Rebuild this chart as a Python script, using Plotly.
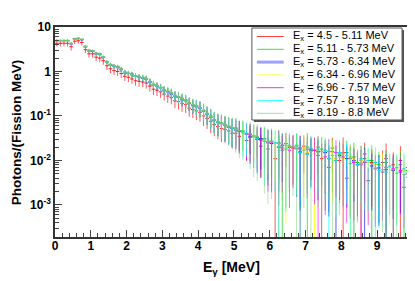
import plotly.graph_objects as go

# bin centres (MeV), bin width 0.1
bin_lo = [round(0.1 * i, 2) for i in range(99)]
bin_centers = [b + 0.05 for b in bin_lo]

labels = ["4.5 - 5.11", "5.11 - 5.73", "5.73 - 6.34", "6.34 - 6.96",
          "6.96 - 7.57", "7.57 - 8.19", "8.19 - 8.8"]

N = None  # bin not drawn (empty / non-positive on the log axis)

s1 = [4.3,4.3,4.3,4.3,3.6,4.8,4.9,4.5,3.1,2.5,
      2.5,2.1,2.0,1.75,1.35,1.15,1.05,1.0,0.9,0.78,
      0.74,0.68,0.62,0.60,0.58,0.55,0.47,0.40,0.38,0.35,
      0.31,0.28,0.26,0.22,0.21,0.19,0.18,0.15,0.14,0.13,
      0.12,0.10,0.088,0.076,0.064,0.058,0.052,0.05,0.046,0.041,
      0.041,0.035,N,0.028,0.033,N,0.03,0.021,N,0.018,
      N,0.011,0.02,N,0.024,N,0.019,N,0.016,0.021,
      N,0.018,N,0.02,0.011,N,0.007,0.019,N,0.01,
      0.015,N,0.011,N,N,0.01,0.014,N,0.009,N,
      N,0.009,0.011,N,0.008,N,0.01,N,0.007]
s2 = [5.0,5.0,5.0,5.0,4.3,5.5,5.6,5.3,3.7,3.0,
      2.9,2.6,2.5,2.1,1.65,1.45,1.35,1.3,1.15,0.97,
      0.92,0.88,0.8,0.76,0.74,0.7,0.6,0.52,0.48,0.44,
      0.39,0.36,0.33,0.29,0.27,0.25,0.23,0.2,0.18,0.17,
      0.155,0.135,0.115,0.1,0.083,0.075,0.07,0.064,0.059,0.055,
      0.054,0.045,0.046,N,0.04,0.034,N,0.029,0.031,N,
      0.027,N,0.025,0.017,N,0.02,N,0.022,0.018,N,
      0.02,N,0.017,N,0.018,0.015,N,0.016,N,0.014,
      N,0.015,N,0.012,0.009,N,0.011,N,0.01,N,
      0.008,N,0.009,N,0.006,N,0.008,N,0.006]
s3 = [4.95,4.95,4.95,4.95,4.2,5.4,5.5,5.2,3.6,2.9,
      2.85,2.5,2.4,2.05,1.6,1.4,1.3,1.22,1.1,0.93,
      0.9,0.84,0.78,0.73,0.71,0.67,0.57,0.5,0.46,0.43,
      0.37,0.35,0.31,0.28,0.26,0.23,0.22,0.19,0.17,0.16,
      0.15,0.128,0.11,0.094,0.079,0.071,0.067,0.061,0.056,0.052,
      0.048,0.047,N,0.04,0.035,N,0.03,0.031,N,0.026,
      0.024,N,0.02,0.022,N,0.02,N,0.019,0.015,N,
      0.014,0.017,N,0.016,N,0.015,0.011,N,0.01,0.013,
      N,0.011,N,0.01,0.008,N,0.009,N,0.0075,N,
      0.0068,N,0.0062,N,0.006,N,0.0055,N,0.005]
s4 = [4.9,4.9,4.9,4.9,4.25,5.45,5.5,5.25,3.65,2.95,
      2.9,2.55,2.4,2.1,1.62,1.42,1.32,1.27,1.12,0.96,
      0.91,0.86,0.79,0.75,0.73,0.69,0.59,0.51,0.47,0.44,
      0.38,0.36,0.32,0.29,0.26,0.245,0.225,0.195,0.18,0.165,
      0.152,0.13,0.112,0.096,0.081,0.073,0.069,0.063,0.058,0.054,
      0.05,N,0.043,0.041,N,0.036,0.032,N,0.028,0.027,
      N,0.024,0.021,N,0.019,0.021,N,0.02,N,0.019,
      0.015,N,0.014,0.017,N,0.016,N,0.015,0.011,N,
      0.011,N,0.0095,0.011,N,0.01,N,0.009,N,0.0082,
      N,0.0075,N,0.007,N,0.0065,N,0.006,N]
s5 = [4.95,4.95,4.95,4.95,4.2,5.5,5.5,5.2,3.6,2.9,
      2.9,2.5,2.45,2.1,1.6,1.42,1.3,1.26,1.1,0.95,
      0.9,0.86,0.78,0.75,0.72,0.68,0.58,0.5,0.47,0.43,
      0.38,0.35,0.32,0.28,0.26,0.24,0.22,0.19,0.175,0.165,
      0.15,0.13,0.11,0.095,0.08,0.072,0.068,0.062,0.057,0.053,
      0.051,0.045,N,0.039,0.038,N,0.033,0.029,N,0.025,
      0.026,N,0.024,0.019,N,0.017,0.02,N,0.019,N,
      0.018,N,0.017,0.013,N,0.012,0.016,N,0.015,N,
      0.012,0.004,N,0.009,N,0.008,0.009,0.0035,N,0.0065,
      N,0.0055,0.007,N,0.0065,N,0.006,0.0025,N]
s6 = [4.9,4.9,4.9,4.9,4.2,5.4,5.45,5.2,3.6,2.9,
      2.9,2.5,2.4,2.1,1.6,1.4,1.3,1.25,1.1,0.95,
      0.9,0.85,0.77,0.74,0.72,0.67,0.58,0.5,0.47,0.43,
      0.38,0.35,0.32,0.28,0.26,0.24,0.22,0.19,0.175,0.165,
      0.15,0.13,0.11,0.095,0.08,0.072,0.068,0.062,0.057,0.053,
      0.049,N,0.042,0.041,N,0.036,0.031,N,0.027,0.027,
      N,0.025,0.02,N,0.018,0.022,N,0.021,0.015,N,
      0.014,0.019,N,0.018,N,0.017,0.011,N,0.01,0.015,
      N,0.013,0.0085,N,0.008,0.011,N,0.01,N,0.009,
      0.006,N,0.0055,0.0075,N,0.007,N,0.0065,0.0042]
s7 = [4.95,4.95,4.95,4.95,4.25,5.45,5.5,5.25,3.65,2.95,
      2.9,2.55,2.45,2.1,1.62,1.42,1.32,1.26,1.12,0.96,
      0.91,0.86,0.79,0.75,0.73,0.69,0.59,0.51,0.48,0.44,
      0.39,0.36,0.33,0.29,0.27,0.245,0.225,0.195,0.18,0.17,
      0.155,0.133,0.113,0.097,0.082,0.074,0.07,0.064,0.059,0.055,
      0.053,0.047,0.046,N,0.04,0.035,0.035,N,0.03,0.026,
      0.027,N,0.024,0.021,0.022,N,0.02,0.018,N,0.017,
      0.018,0.016,N,0.015,0.016,N,0.016,0.013,N,0.012,
      0.014,N,0.012,0.0095,N,0.0085,0.0095,N,0.0085,0.0068,
      N,0.0062,0.0068,N,0.0062,0.0052,N,0.0048,0.0052]

# relative errors in percent (0 where the bin is not drawn)
e1 = [15,15,15,15,18,14,14,15,16,17,
      18,18,19,19,20,20,20,21,21,22,
      22,22,23,24,24,25,25,26,26,27,
      28,30,30,32,33,34,35,36,36,38,
      38,40,42,45,45,48,50,50,52,55,
      45,55,0,65,55,0,60,80,0,85,
      0,130,80,0,70,0,85,0,120,75,
      0,80,0,75,115,0,90,70,0,85,
      120,0,95,0,0,115,80,0,90,0,
      0,85,120,0,90,0,110,0,85]
e2 = [4,4,4,4,5,4,4,4,5,6,
      6,7,7,8,9,9,10,10,11,12,
      12,13,14,14,15,16,17,18,19,20,
      21,22,24,25,27,28,30,32,34,36,
      38,40,42,45,48,50,53,56,60,62,
      60,68,64,0,66,80,0,86,76,0,
      84,0,88,110,0,90,0,85,95,0,
      105,0,90,0,85,95,0,88,0,92,
      0,85,0,110,95,0,90,0,120,0,
      95,0,88,0,115,0,92,0,105]
e3 = [4,4,4,4,5,4,4,4,5,6,
      6,6,7,8,8,9,10,10,11,11,
      12,13,13,14,15,16,17,18,18,20,
      21,22,23,25,26,28,30,31,33,35,
      37,40,42,44,47,50,52,55,58,61,
      62,64,0,70,76,0,82,80,0,86,
      92,0,90,85,0,88,0,92,95,0,
      90,85,0,92,0,88,95,0,110,90,
      0,92,0,88,93,0,110,0,90,0,
      95,0,120,0,92,0,88,0,95]
e4 = [4,4,4,4,5,4,4,4,5,5,
      6,6,7,7,8,9,9,10,10,11,
      11,12,13,13,14,15,16,17,18,19,
      20,21,22,24,25,27,28,30,32,34,
      36,38,40,42,45,48,50,53,56,58,
      58,0,64,66,0,70,76,0,82,82,
      0,86,92,0,98,90,0,88,0,92,
      95,0,110,85,0,88,0,92,95,0,
      90,0,115,85,0,92,0,95,0,88,
      0,90,0,95,0,92,0,110,0]
e5 = [4,4,4,4,5,4,4,4,5,6,
      6,7,7,8,8,9,10,10,11,12,
      12,13,14,14,15,16,17,18,19,20,
      21,22,23,25,26,28,30,32,34,36,
      38,40,42,45,47,50,52,55,58,61,
      64,68,0,74,75,0,80,86,0,92,
      92,0,96,90,0,95,88,0,92,0,
      90,0,94,110,0,95,88,0,90,0,
      92,90,0,95,0,120,88,90,0,95,
      0,92,88,0,110,0,90,88,0]
e6 = [4,4,4,4,5,4,4,4,5,6,
      6,7,7,8,9,9,10,10,11,12,
      12,13,14,15,15,16,17,18,19,20,
      22,23,24,26,27,29,31,33,35,37,
      39,41,44,46,49,52,55,58,61,64,
      66,0,72,70,0,76,84,0,90,88,
      0,92,104,0,96,90,0,92,120,0,
      95,88,0,90,0,92,115,0,95,90,
      0,92,125,0,95,90,0,93,0,120,
      95,0,130,92,0,95,0,125,95]
e7 = [4,4,4,4,5,4,4,4,5,6,
      6,7,7,8,9,9,10,10,11,12,
      13,13,14,15,16,17,18,19,20,21,
      22,24,25,27,28,30,32,34,36,38,
      40,43,45,48,51,54,57,60,63,66,
      72,76,78,0,84,88,90,0,94,96,
      95,0,104,94,96,0,92,110,0,95,
      92,120,0,94,96,0,92,125,0,95,
      94,0,96,130,0,95,92,0,115,94,
      0,96,125,0,95,120,0,96,95]

values = [s1, s2, s3, s4, s5, s6, s7]
errors = [e1, e2, e3, e4, e5, e6, e7]

bar_colors = ["rgba(255,0,0,0.65)", "rgba(0,215,0,0.65)", "rgba(0,0,255,0.65)",
              "rgba(255,255,0,0.75)", "rgba(255,0,255,0.65)", "rgba(0,255,255,0.65)",
              "rgba(120,210,120,0.55)"]
hbar_colors = ["#ff2020", "#00cc00", "#2020ff", "#e8e800", "#ff00ff", "#00e0e0", "#70c870"]
leg_colors = ["#ff4040", "#40e040", "#a0a0ff", "#ffff40", "#e040e0", "#40ffff", "#a0dca0"]
leg_widths = [1, 1, 3, 1, 1, 1, 1]

FONT = "Liberation Sans, Arial, Helvetica, sans-serif"

fig = go.Figure()
for vals, errs, c, hc in zip(values, errors, bar_colors, hbar_colors):
    err_abs = [(v * p / 100.0) if v is not None else 0 for v, p in zip(vals, errs)]
    fig.add_trace(go.Scatter(
        x=bin_centers, y=vals, mode="markers",
        marker=dict(size=1, color=hc),
        error_y=dict(type="data", array=err_abs, visible=True,
                     color=c, thickness=1, width=0),
        error_x=dict(type="constant", value=0.05, visible=True,
                     color=hc, thickness=1, width=0),
        showlegend=False, hoverinfo="skip"))

# page body has an 8px margin: screen = figure + 8
OFF = 8
W, H = 415 - OFF, 281 - OFF
# plot area in screen pixels: x 55..411, y 27..237
L, R, T, B = 55 - OFF, 411 - OFF, 27 - OFF, 237 - OFF
def px(x):
    return (x - OFF - L) / (R - L)
def py(y):
    return (B - (y - OFF)) / (B - T)

shapes = []
annotations = []
# legend box with shadow
shapes.append(dict(type="rect", xref="paper", yref="paper",
                   x0=px(255), x1=px(406), y0=py(122), y1=py(30),
                   line=dict(width=0), fillcolor="#555555"))
shapes.append(dict(type="rect", xref="paper", yref="paper",
                   x0=px(253), x1=px(404), y0=py(120), y1=py(28),
                   line=dict(width=1, color="#555555"), fillcolor="white"))
for i, (lab, lc, lw) in enumerate(zip(labels, leg_colors, leg_widths)):
    yy = 36.5 + 12.8 * i
    shapes.append(dict(type="line", xref="paper", yref="paper",
                       x0=px(258), x1=px(285), y0=py(yy), y1=py(yy),
                       line=dict(color=lc, width=lw)))
    annotations.append(dict(xref="paper", yref="paper", x=px(292), y=py(yy),
                            xanchor="left", yanchor="middle", showarrow=False,
                            text="E<sub>x</sub> = " + lab + " MeV",
                            font=dict(family=FONT, size=11, color="black")))

annotations.append(dict(xref="paper", yref="paper", x=px(16), y=py(132),
                        xanchor="center", yanchor="middle", showarrow=False,
                        textangle=-90, text="<b>Photons/(Fission MeV)</b>",
                        font=dict(family=FONT, size=13.5, color="black")))
annotations.append(dict(xref="paper", yref="paper", x=px(232), y=py(268),
                        xanchor="center", yanchor="middle", showarrow=False,
                        text="<b>E<sub>γ</sub> [MeV]</b>",
                        font=dict(family=FONT, size=14, color="black")))

x_ticks = [0, 1, 2, 3, 4, 5, 6, 7, 8, 9]
y_ticks = [10, 1, 0.1, 0.01, 0.001]
y_ticktext = ["<b>10</b>", "<b>1</b>", "<b>10<sup>-1</sup></b>",
              "<b>10<sup>-2</sup></b>", "<b>10<sup>-3</sup></b>"]

fig.update_layout(
    width=W, height=H, autosize=False,
    margin=dict(l=L, r=W - R, t=T, b=H - B, pad=0),
    paper_bgcolor="white", plot_bgcolor="white",
    showlegend=False, shapes=shapes, annotations=annotations,
    font=dict(family=FONT, color="black"),
    xaxis=dict(range=[0, 9.89], showgrid=False, zeroline=False,
               tickvals=x_ticks, ticktext=["<b>%d</b>" % t for t in x_ticks],
               ticks="inside", ticklen=7, tickcolor="#444", tickwidth=1,
               minor=dict(ticks="inside", ticklen=4, dtick=0.2, tickcolor="#444", showgrid=False),
               showline=True, mirror=True, linecolor="#333", linewidth=1.5,
               ticklabelstandoff=-3,
               tickfont=dict(family=FONT, size=12, color="black")),
    yaxis=dict(type="log", range=[-3.72, 1.0], showgrid=False, zeroline=False,
               tickvals=y_ticks, ticktext=y_ticktext,
               ticks="inside", ticklen=7, tickcolor="#444", tickwidth=1,
               minor=dict(ticks="inside", ticklen=4, dtick="D1", tickcolor="#444", showgrid=False),
               showline=True, mirror=True, linecolor="#333", linewidth=1.5,
               tickfont=dict(family=FONT, size=12, color="black")),
)

fig.write_html("out.html")
